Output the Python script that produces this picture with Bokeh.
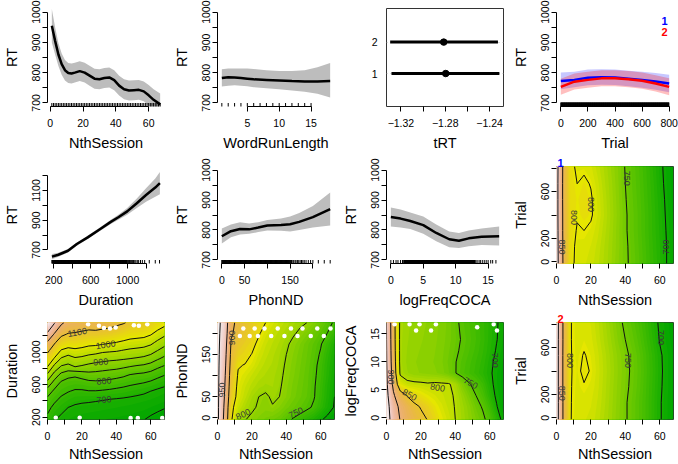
import colorsys
import numpy as np
from bokeh.plotting import figure
from bokeh.layouts import gridplot
from bokeh.models import FixedTicker
from bokeh.core.properties import value
from bokeh.embed import file_html
from bokeh.resources import INLINE

FONT = "Liberation Sans"

# ---------------- data ----------------
# 1) RT ~ s(NthSession)
session_x = [1, 3, 5, 7, 9, 11, 13, 15, 18, 21, 24, 27, 30, 33, 36, 39, 42, 45, 48, 51, 54, 57, 60, 63, 67]
session_fit = [955, 905, 860, 828, 808, 799, 797, 800, 805, 800, 790, 780, 778, 782, 784, 775, 757, 745, 741, 742, 743, 738, 725, 710, 695]
session_ci = [55, 45, 38, 35, 34, 33, 33, 33, 33, 33, 33, 33, 33, 33, 33, 33, 33, 33, 33, 33, 33, 33, 34, 35, 36]
session_rug = list(range(1, 68))

# 2) RT ~ s(WordRunLength)
wrl_x = [1, 2, 3, 4, 5, 6, 8, 10, 12, 14, 16, 18]
wrl_fit = [782, 785, 784, 782, 780, 778, 776, 774, 772, 771, 771, 772]
wrl_lo = [754, 757, 758, 757, 755, 752, 748, 745, 741, 737, 730, 718]
wrl_hi = [811, 814, 814, 814, 814, 812, 808, 805, 805, 808, 818, 832]
wrl_rug = list(range(1, 16))

# 3) tRT effect by level
trt_level = [1, 2]
trt_fit = [-1.2796, -1.2814]
trt_lo = [-1.3285, -1.3297]
trt_hi = [-1.2312, -1.2325]
trt_ticks = [-1.32, -1.30, -1.28, -1.26, -1.24]
trt_hidden = [-1.30, -1.26]

# 4) RT ~ s(Trial) by condition 1 / 2
trial_x = [0, 100, 200, 300, 400, 500, 600, 700, 800]
trial1_fit = [772, 776, 783, 785, 784, 780, 776, 771, 764]
trial1_lo = [745, 752, 758, 760, 759, 755, 750, 743, 735]
trial1_hi = [800, 803, 810, 811, 810, 806, 803, 799, 793]
trial2_fit = [753, 770, 776, 781, 781, 778, 773, 764, 753]
trial2_lo = [727, 744, 750, 755, 755, 752, 747, 738, 725]
trial2_hi = [780, 797, 803, 808, 808, 805, 800, 791, 781]
trial_rug = list(range(0, 801, 3))
trial_key_x = [766, 766]
trial_key_y = [970, 934]
trial_key_text = ["1", "2"]
trial_key_color = ["#0000ff", "#ff0000"]

# 5) RT ~ s(Duration)
dur_x = [180, 250, 354, 450, 568, 700, 818, 900, 996, 1100, 1200, 1300, 1350]
dur_fit = [655, 668, 695, 740, 785, 840, 889, 920, 960, 1015, 1070, 1120, 1150]
dur_ci = [18, 14, 12, 11, 11, 12, 14, 17, 22, 32, 45, 62, 75]
dur_rug = list(range(180, 1000, 4)) + [1005, 1012, 1020, 1028, 1036, 1045, 1055, 1065, 1078, 1090,
                                       1105, 1120, 1140, 1160, 1185, 1235, 1300, 1346]

# 6) RT ~ s(PhonND)
phon_x = [0, 20, 40, 60, 80, 100, 130, 150, 170, 200, 238]
phon_fit = [779, 796, 803, 802, 808, 815, 817, 819, 827, 843, 870]
phon_lo = [755, 776, 785, 787, 793, 798, 797, 795, 800, 808, 815]
phon_hi = [805, 818, 826, 822, 826, 833, 838, 845, 857, 880, 925]
phon_rug = list(range(0, 150)) + [151, 153, 156, 158, 161, 163, 166, 169, 172, 175, 178, 181, 185,
                                  190, 195, 200, 212, 225, 238]

# 7) RT ~ s(logFreqCOCA)
freq_x = [0, 1.5, 3, 5, 7, 9, 10.5, 12, 14, 16.7]
freq_fit = [843, 838, 830, 816, 790, 769, 764, 772, 777, 779]
freq_lo = [812, 808, 803, 787, 762, 742, 740, 746, 750, 748]
freq_hi = [875, 868, 858, 845, 818, 795, 790, 798, 805, 812]
freq_rug = [0.0, 0.4, 0.8, 1.1, 1.5, 1.8] + [round(v, 2) for v in np.arange(2.0, 13.0, 0.05)] + \
           [13.1, 13.3, 13.6, 13.8, 14.1, 14.4, 14.7, 15.0, 15.4, 15.7, 16.2]

# surfaces: columns = NthSession grid, rows = second predictor grid
grid_session = [0, 4, 8, 12, 16, 20, 24, 28, 32, 36, 40, 44, 48, 52, 56, 60, 64, 68]

# 8) te(NthSession, Trial), condition 1
grid_trial = [-14, 133, 267, 400, 533, 667, 814]
surf_trial1 = [
    [918, 845, 805, 796, 794, 791, 785, 778, 770, 761, 753, 746, 738, 729, 720, 711, 700, 692],
    [917, 844, 805, 797, 796, 793, 787, 779, 771, 762, 753, 745, 737, 728, 719, 710, 700, 692],
    [916, 843, 806, 799, 800, 797, 790, 781, 772, 762, 752, 744, 736, 727, 718, 709, 699, 691],
    [915, 843, 807, 801, 804, 802, 793, 783, 773, 763, 752, 744, 736, 727, 718, 708, 698, 690],
    [915, 842, 807, 802, 805, 802, 792, 782, 772, 762, 751, 743, 735, 726, 717, 707, 697, 689],
    [915, 842, 806, 800, 803, 799, 790, 780, 771, 761, 750, 742, 734, 725, 716, 705, 696, 688],
    [916, 843, 805, 797, 797, 794, 786, 778, 769, 760, 749, 741, 733, 724, 714, 704, 695, 687],
]
lab_trial1_x = [3.3, 10.0, 20.1, 41.1, 63.6]
lab_trial1_y = [126, 378, 490, 714, 126]
lab_trial1_t = ["850", "800", "800", "750", "700"]
lab_trial1_a = [-90, -90, -90, -90, 90]

# 12) te(NthSession, Trial), condition 2
surf_trial2 = [
    [920, 845, 801, 794, 793, 791, 785, 777, 769, 760, 752, 744, 735, 725, 714, 702, 693, 686],
    [920, 845, 801, 795, 795, 793, 787, 779, 770, 761, 752, 744, 735, 725, 714, 702, 693, 686],
    [920, 844, 801, 796, 799, 796, 789, 780, 771, 762, 754, 746, 737, 726, 715, 703, 694, 686],
    [920, 844, 801, 797, 803, 799, 790, 781, 772, 763, 755, 747, 738, 727, 716, 704, 694, 686],
    [920, 844, 801, 796, 801, 797, 789, 780, 771, 762, 754, 746, 737, 726, 715, 703, 694, 686],
    [920, 845, 801, 795, 797, 794, 786, 777, 768, 758, 750, 742, 733, 722, 711, 699, 691, 684],
    [921, 845, 801, 795, 795, 792, 784, 775, 765, 755, 746, 738, 729, 719, 708, 697, 689, 683],
]
lab_trial2_x = [3.3, 8.1, 41.8, 60.6]
lab_trial2_y = [210, 490, 490, 686]
lab_trial2_t = ["850", "800", "750", "700"]
lab_trial2_a = [-90, -90, -90, -90]

# 9) te(NthSession, Duration)
grid_dur = [172, 320, 420, 520, 620, 720, 820, 920, 1020, 1120, 1220, 1364]
surf_dur = [
    [737, 704, 687, 678, 672, 669, 667, 665, 663, 661, 659, 657, 655, 652, 651, 644, 638, 632],
    [765, 737, 717, 700, 692, 688, 686, 684, 682, 680, 678, 675, 672, 669, 666, 662, 657, 652],
    [788, 762, 740, 726, 715, 711, 709, 706, 703, 700, 697, 694, 690, 686, 682, 678, 672, 666],
    [828, 789, 765, 753, 744, 744, 748, 748, 745, 741, 736, 731, 724, 717, 710, 700, 690, 682],
    [883, 830, 790, 779, 774, 777, 785, 788, 786, 782, 776, 769, 761, 755, 749, 740, 726, 715],
    [941, 880, 835, 814, 809, 821, 832, 832, 828, 824, 818, 810, 798, 792, 788, 780, 766, 752],
    [1000, 935, 894, 886, 900, 893, 884, 877, 872, 867, 864, 857, 849, 842, 837, 826, 808, 793],
    [1059, 994, 945, 927, 944, 939, 930, 923, 917, 912, 909, 905, 900, 895, 889, 877, 856, 838],
    [1118, 1053, 995, 982, 989, 983, 974, 970, 961, 958, 955, 948, 942, 938, 933, 922, 900, 880],
    [1191, 1112, 1053, 1035, 1038, 1031, 1021, 1019, 1013, 1006, 1000, 991, 983, 979, 975, 963, 940, 920],
    [1282, 1192, 1117, 1094, 1090, 1082, 1074, 1075, 1068, 1061, 1050, 1038, 1025, 1021, 1017, 1004, 980, 960],
    [1400, 1310, 1220, 1170, 1160, 1152, 1145, 1150, 1142, 1136, 1120, 1108, 1087, 1083, 1078, 1065, 1038, 1020],
]
lab_dur_x = [17.3, 33.8, 30.9, 32.8, 32.8]
lab_dur_y = [1242, 1090, 879, 645, 414]
lab_dur_t = ["1100", "1000", "900", "800", "700"]
lab_dur_a = [10, 8, 5, 5, 5]
gap_dur_x = [23.6, 29.9, 32.8, 36.3, 39.6, 50.2, 53.1, 58.0, 4.8, 18.7, 48.3, 52.5, 66.7]
gap_dur_y = [1343, 1323, 1295, 1290, 1302, 1330, 1323, 1343, 195, 195, 190, 190, 190]

# 10) te(NthSession, PhonND)
grid_phon = [-4, 25, 50, 75, 100, 125, 150, 175, 200, 226]
surf_phon = [
    [1010, 940, 855, 808, 801, 795, 788, 782, 778, 772, 759, 747, 737, 727, 717, 703, 693, 687],
    [1010, 945, 860, 830, 815, 804, 797, 793, 798, 790, 780, 772, 765, 756, 746, 730, 712, 698],
    [1010, 950, 870, 840, 825, 810, 800, 795, 805, 800, 790, 780, 772, 764, 752, 735, 716, 700],
    [1010, 955, 875, 843, 830, 820, 812, 808, 810, 803, 792, 782, 774, 766, 753, 737, 718, 702],
    [1010, 960, 880, 847, 838, 828, 820, 815, 812, 805, 795, 785, 776, 767, 755, 740, 722, 705],
    [1010, 965, 885, 852, 849, 840, 828, 820, 815, 808, 797, 787, 778, 769, 757, 742, 724, 708],
    [1010, 970, 890, 865, 858, 849, 835, 825, 818, 810, 800, 790, 780, 771, 760, 747, 728, 712],
    [1010, 975, 895, 875, 866, 858, 843, 830, 822, 815, 804, 794, 784, 773, 763, 752, 735, 717],
    [1010, 980, 905, 885, 875, 866, 853, 838, 828, 820, 812, 803, 795, 785, 773, 762, 749, 735],
    [1010, 985, 910, 890, 880, 870, 860, 850, 838, 828, 820, 812, 805, 800, 790, 777, 760, 746],
]
lab_phon_x = [2.5, 8.2, 14.9, 45.6]
lab_phon_y = [66, 190, 8, 12]
lab_phon_t = ["950", "900", "800", "750"]
lab_phon_a = [90, 90, 25, 25]
gap_phon_x = [13, 18.7, 23.5, 31.2, 38.9, 46.5, 54.2, 61.8, 15, 21.6, 27.3, 35, 42.7, 49.4, 58, 65.7]
gap_phon_y = [194, 194, 194, 194, 194, 194, 194, 194, 212, 212, 212, 212, 212, 212, 212, 212]

# 11) te(NthSession, logFreqCOCA)
grid_freq = [-0.3, 2, 4, 6, 8, 10, 12, 14, 17.05]
surf_freq = [
    [970, 930, 898, 880, 868, 857, 849, 835, 822, 811, 800, 789, 778, 767, 756, 739, 716, 690],
    [968, 922, 890, 872, 857, 848, 838, 826, 815, 806, 799, 787, 775, 760, 747, 728, 702, 680],
    [963, 906, 870, 848, 837, 828, 820, 814, 809, 804, 798, 782, 766, 750, 736, 715, 695, 683],
    [958, 890, 820, 808, 806, 805, 803, 805, 804, 803, 792, 770, 753, 740, 727, 708, 692, 682],
    [955, 880, 795, 785, 780, 778, 776, 774, 770, 762, 751, 740, 732, 724, 715, 704, 692, 682],
    [953, 875, 792, 783, 779, 777, 775, 772, 768, 760, 751, 742, 734, 726, 718, 706, 694, 684],
    [952, 872, 792, 784, 780, 778, 776, 773, 769, 762, 754, 746, 738, 730, 721, 710, 698, 688],
    [951, 870, 792, 785, 781, 779, 777, 774, 770, 764, 756, 748, 740, 732, 723, 712, 701, 690],
    [950, 868, 793, 786, 782, 780, 778, 775, 771, 765, 755, 745, 738, 731, 722, 713, 702, 692],
]
lab_freq_x = [2.9, 13.4, 29.7, 48.9, 63.2]
lab_freq_y = [7.3, 4.1, 5.4, 6.2, 10.3]
lab_freq_t = ["900", "850", "800", "750", "700"]
lab_freq_a = [-90, -30, -10, -30, -90]
gap_freq_x = [4.7, 13.4, 19.2, 28.7, 17.2, 25.9, 52.7, 62.3, 64.2]
gap_freq_y = [16.75, 16.75, 16.75, 16.75, 15.6, 15.6, 16.2, 16.75, 15.6]

contour_levels = [650, 700, 750, 800, 850, 900, 950, 1000, 1100, 1200, 1300, 1400]


# ---------------- helpers ----------------
def terrain_colors(n):
    k = n // 2
    hs = list(np.linspace(4 / 12, 2 / 12, k)) + list(np.linspace(2 / 12, 0, n - k + 1)[1:])
    ss = list(np.linspace(1, 1, k)) + list(np.linspace(1, 0, n - k + 1)[1:])
    vs = list(np.linspace(0.65, 0.9, k)) + list(np.linspace(0.9, 0.95, n - k + 1)[1:])
    out = []
    for h, s, v in zip(hs, ss, vs):
        r, g, b = colorsys.hsv_to_rgb(h, s, v)
        out.append("#%02x%02x%02x" % (int(round(r * 255)), int(round(g * 255)), int(round(b * 255))))
    return out


def new_fig(w, h, xr, yr, left, right, top, bottom, title=None):
    kw = dict(width=w, height=h, x_range=xr, y_range=yr, output_backend="svg",
              toolbar_location=None, min_border_left=left, min_border_right=right,
              min_border_top=top, min_border_bottom=bottom)
    if title is not None:
        kw["title"] = title
    p = figure(**kw)
    p.grid.visible = False
    p.outline_line_color = None
    p.background_fill_color = "white"
    p.border_fill_color = "white"
    return p


def set_axis(ax, ticks, hidden, bounds, label, tick_standoff, label_standoff,
             vertical=False, line=True):
    ax.ticker = FixedTicker(ticks=ticks)
    ax.major_label_overrides = {t: "" for t in hidden}
    if bounds is not None:
        ax.bounds = bounds
    ax.axis_label = label
    ax.axis_label_text_font = FONT
    ax.axis_label_text_font_size = "14.5px"
    ax.axis_label_text_font_style = "normal"
    ax.axis_label_text_color = "black"
    ax.axis_label_standoff = label_standoff
    ax.major_label_text_font = FONT
    ax.major_label_text_font_size = "10.5px"
    ax.major_label_text_color = "black"
    ax.major_label_standoff = tick_standoff
    ax.major_tick_out = 5
    ax.major_tick_in = 0
    ax.major_tick_line_color = "black"
    ax.minor_tick_line_color = None
    ax.axis_line_color = "black" if line else None
    if vertical:
        ax.major_label_orientation = "vertical"


def add_rug(p, xs, y0, size=7):
    p.scatter(x=xs, y=[y0] * len(xs), marker="dash", angle=np.pi / 2, size=size,
              line_color="black", line_width=1)


def line_panel(w, h, xr, yr, dims, xticks, xhidden, xbounds, xlabel,
               yticks, yhidden, ybounds, xstand):
    p = new_fig(w, h, xr, yr, *dims)
    set_axis(p.xaxis[0], xticks, xhidden, xbounds, xlabel, 7, xstand)
    set_axis(p.yaxis[0], yticks, yhidden, ybounds, "RT", 2, 10, vertical=True)
    return p


def surface_panel(w, h, xs, ys, Z, dims, xlabel, ylabel, yticks, yhidden, xstand,
                  lab_x, lab_y, lab_t, lab_a, gap_x=None, gap_y=None, title=None, title_color=None):
    p = new_fig(w, h, (xs[0], xs[-1]), (ys[0], ys[-1]), *dims, title=title)
    Z = np.array(Z, dtype=float)
    zmin, zmax = float(Z.min()), float(Z.max())
    nb = 50
    levels = np.linspace(zmin - 0.5, zmax + 0.5, nb + 1)
    pal = terrain_colors(nb)
    # stacked fills: region z >= level_i painted in colour i, so that bands never leave seams
    for i in range(nb):
        p.contour(x=xs, y=ys, z=Z, levels=[float(levels[i]), float(levels[-1]) + 1.0],
                  fill_color=pal[i], line_color=None)
    lv = [v for v in contour_levels if zmin < v < zmax]
    if len(lv) >= 1:
        p.contour(x=xs, y=ys, z=Z, levels=lv, line_color="#111111", line_width=1)
    p.text(x=lab_x, y=lab_y, text=lab_t, angle=lab_a, angle_units="deg",
           text_font=value(FONT), text_font_size="9px", text_color="#3a3a3a",
           text_align="center", text_baseline="middle")
    if gap_x is not None:
        p.scatter(x=gap_x, y=gap_y, size=4.5, fill_color="white", line_color=None)
    p.outline_line_color = "#333333"
    p.outline_line_width = 1
    set_axis(p.xaxis[0], [0, 10, 20, 30, 40, 50, 60], [10, 30, 50], None, xlabel, 7, xstand, line=False)
    set_axis(p.yaxis[0], yticks, yhidden, None, ylabel, 2, 10, vertical=True, line=False)
    if title is not None:
        p.title.text_color = title_color
        p.title.text_font = FONT
        p.title.text_font_size = "11px"
        p.title.text_font_style = "bold"
        p.title.align = "left"
        p.title.standoff = 0
        p.title.offset = 1
    return p


BAND = "#bdbdbd"
RT_TICKS = [700, 750, 800, 850, 900, 950, 1000]
RT_HIDE = [750, 850, 950]

# column widths / row heights
W = [170, 169, 170, 169]
R1 = (8, 46)
R2 = (13, 46)
R3 = (12, 44)


def dims(col, row, left=46):
    return (left, W[col] - left - 118 if left == 46 else W[col] - left - 144, row[0], row[1])


# ---------------- row 1 ----------------
p1 = line_panel(W[0], 153, (-1.64, 69.64), (688, 1012), dims(0, R1),
                [0, 20, 40, 60], [], (0, 60), "NthSession", RT_TICKS, RT_HIDE, (700, 1000), 5)
lo = [f - c for f, c in zip(session_fit, session_ci)]
hi = [f + c for f, c in zip(session_fit, session_ci)]
p1.varea(x=session_x, y1=lo, y2=hi, fill_color=BAND)
p1.line(session_x, session_fit, line_color="black", line_width=2.5)
add_rug(p1, session_rug, 688)

p2 = line_panel(W[1], 153, (0.32, 18.68), (688, 1012), dims(1, R1),
                [5, 10, 15], [], (5, 15), "WordRunLength", RT_TICKS, RT_HIDE, (700, 1000), 5)
p2.varea(x=wrl_x, y1=wrl_lo, y2=wrl_hi, fill_color=BAND)
p2.line(wrl_x, wrl_fit, line_color="black", line_width=2.5)
add_rug(p2, wrl_rug, 688)

p3 = new_fig(W[2], 153, (-1.333, -1.2275), (-0.05, 3.07), *dims(2, R1, left=20))
p3.outline_line_color = "#333333"
set_axis(p3.xaxis[0], trt_ticks, trt_hidden, None, "tRT", 7, 5, line=False)
set_axis(p3.yaxis[0], trt_level, [], None, None, 9, 0, line=False)
p3.yaxis[0].major_tick_out = 0
p3.yaxis[0].major_tick_line_color = None
p3.ygrid.visible = True
p3.ygrid.ticker = FixedTicker(ticks=trt_level)
p3.ygrid.grid_line_color = "#bbbbbb"
p3.ygrid.grid_line_dash = "1 3"
p3.segment(x0=trt_lo, y0=trt_level, x1=trt_hi, y1=trt_level, line_width=3, line_color="black")
p3.scatter(x=trt_fit, y=trt_level, size=6.5, color="black")

p4 = line_panel(W[3], 153, (-32, 832), (688, 1012), dims(3, R1),
                [0, 200, 400, 600, 800], [], (0, 800), "Trial", RT_TICKS, RT_HIDE, (700, 1000), 5)
p4.varea(x=trial_x, y1=trial1_lo, y2=trial1_hi, fill_color="#0000ff", fill_alpha=0.22)
p4.varea(x=trial_x, y1=trial2_lo, y2=trial2_hi, fill_color="#ff0000", fill_alpha=0.25)
p4.line(trial_x, trial1_fit, line_color="#0000ff", line_width=2.5)
p4.line(trial_x, trial2_fit, line_color="#ff0000", line_width=2.5)
add_rug(p4, trial_rug, 688, size=8)
p4.text(x=trial_key_x, y=trial_key_y, text=trial_key_text, text_color=trial_key_color,
        text_font=value(FONT), text_font_style="bold", text_font_size="11px",
        text_align="center", text_baseline="middle")

# ---------------- row 2 ----------------
p5 = line_panel(W[0], 157, (132, 1400), (609, 1262), dims(0, R2),
                [200, 400, 600, 800, 1000, 1200], [400, 800, 1200], (200, 1200), "Duration",
                [700, 800, 900, 1000, 1100, 1200], [800, 1000, 1200], (700, 1200), 5)
lo = [f - c for f, c in zip(dur_fit, dur_ci)]
hi = [f + c for f, c in zip(dur_fit, dur_ci)]
p5.varea(x=dur_x, y1=lo, y2=hi, fill_color=BAND)
p5.line(dur_x, dur_fit, line_color="black", line_width=2.5)
add_rug(p5, dur_rug, 609)

p6 = line_panel(W[1], 157, (-9.5, 247.5), (688, 1012), dims(1, R2),
                [0, 50, 100, 150, 200], [100, 200], (0, 200), "PhonND", RT_TICKS, RT_HIDE, (700, 1000), 5)
p6.varea(x=phon_x, y1=phon_lo, y2=phon_hi, fill_color=BAND)
p6.line(phon_x, phon_fit, line_color="black", line_width=2.5)
add_rug(p6, phon_rug, 688)

p7 = line_panel(W[2], 157, (-0.67, 17.37), (688, 1012), dims(2, R2),
                [0, 5, 10, 15], [], (0, 15), "logFreqCOCA", RT_TICKS, RT_HIDE, (700, 1000), 5)
p7.varea(x=freq_x, y1=freq_lo, y2=freq_hi, fill_color=BAND)
p7.line(freq_x, freq_fit, line_color="black", line_width=2.5)
add_rug(p7, freq_rug, 688)

p8 = surface_panel(W[3], 157, grid_session, grid_trial, surf_trial1, dims(3, R2), "NthSession", "Trial",
                   [0, 200, 400, 600, 800], [400, 800], 5,
                   lab_trial1_x, lab_trial1_y, lab_trial1_t, lab_trial1_a,
                   title="1", title_color="#0000ff")

# ---------------- row 3 ----------------
p9 = surface_panel(W[0], 154, grid_session, grid_dur, surf_dur, dims(0, R3), "NthSession", "Duration",
                   [200, 400, 600, 800, 1000, 1200], [400, 800, 1200], 3,
                   lab_dur_x, lab_dur_y, lab_dur_t, lab_dur_a, gap_dur_x, gap_dur_y)
p10 = surface_panel(W[1], 154, grid_session, grid_phon, surf_phon, dims(1, R3), "NthSession", "PhonND",
                    [0, 50, 100, 150, 200], [100, 200], 3,
                    lab_phon_x, lab_phon_y, lab_phon_t, lab_phon_a, gap_phon_x, gap_phon_y)
p11 = surface_panel(W[2], 154, grid_session, grid_freq, surf_freq, dims(2, R3), "NthSession", "logFreqCOCA",
                    [0, 5, 10, 15], [], 3,
                    lab_freq_x, lab_freq_y, lab_freq_t, lab_freq_a, gap_freq_x, gap_freq_y)
p12 = surface_panel(W[3], 154, grid_session, grid_trial, surf_trial2, dims(3, R3), "NthSession", "Trial",
                    [0, 200, 400, 600, 800], [400, 800], 3,
                    lab_trial2_x, lab_trial2_y, lab_trial2_t, lab_trial2_a,
                    title="2", title_color="#ff0000")

grid = gridplot([[p1, p2, p3, p4], [p5, p6, p7, p8], [p9, p10, p11, p12]], toolbar_location=None)

open("out.html", "w").write(file_html(grid, INLINE))
